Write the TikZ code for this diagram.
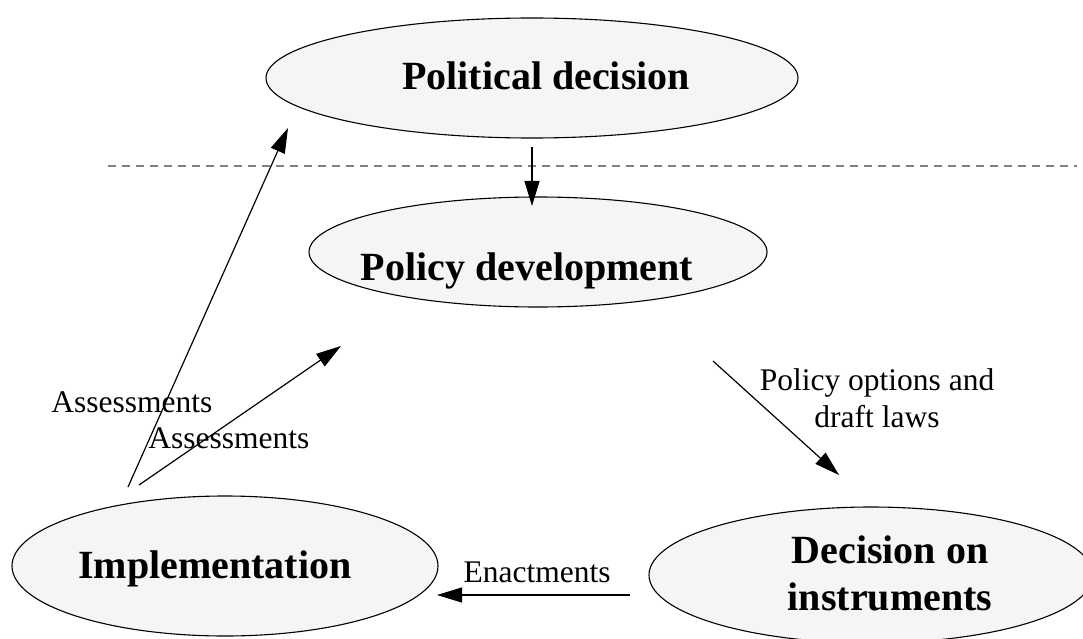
\documentclass[tikz,border=0pt]{standalone}
\usepackage{fontspec}
\setmainfont{Liberation Serif}
\usetikzlibrary{shapes.geometric,arrows.meta}
\definecolor{ellfill}{RGB}{245,245,245}
\definecolor{dashgray}{RGB}{128,128,128}
\begin{document}
\begin{tikzpicture}[x=1pt,y=-1pt,
 ell/.style={ellipse, draw=black, line width=1.1pt, fill=ellfill, inner sep=0pt},
 title/.style={font=\fontsize{40}{47}\selectfont\bfseries, inner sep=0pt, align=center},
 lbl/.style={font=\fontsize{31.5}{37}\selectfont, inner sep=0pt, align=center},
 arr/.style={line width=1.2pt, -{Triangle[length=25pt,width=15pt]}},
 sep/.style={draw=dashgray, line width=1.2pt, dash pattern=on 8pt off 6pt},
]
\useasboundingbox (0,0) rectangle (1083,639);
\fill[white] (0,0) rectangle (1083,639);

% separator
\coordinate (dl1) at (108,166);
\coordinate (dl2) at (1077,166);
\draw[sep] (dl1) -- (dl2);

% ellipses
\node[ell, minimum width=532pt, minimum height=120pt] (pd) at (532,78) {};
\node[ell, minimum width=458pt, minimum height=110pt] (pdev) at (538,252) {};
\node[ell, minimum width=426pt, minimum height=140pt] (impl) at (225,566) {};
\node[ell, minimum width=444pt, minimum height=136pt] (dec) at (871,575) {};

% titles
\node[title, anchor=base] (pdt) at (546,90) {Political decision};
\node[title, anchor=base] (pdevt) at (527,280) {Policy development};
\node[title, anchor=base] (implt) at (215,578) {Implementation};
\node[title] (dect) at (890,573) {Decision on\\instruments};

% arrow end points
\coordinate (a1s) at (532,147); \coordinate (a1e) at (532,206);
\coordinate (a2s) at (128,487); \coordinate (a2e) at (288,128);
\coordinate (a3s) at (139,485); \coordinate (a3e) at (341,346);
\coordinate (a4s) at (713,361); \coordinate (a4e) at (839,475);
\coordinate (a5s) at (630,595); \coordinate (a5e) at (437,595);

\draw[arr] (a1s) -- (a1e);
\draw[arr] (a2s) -- (a2e);
\draw[arr] (a3s) -- (a3e);
\draw[arr] (a4s) -- (a4e);
\draw[arr] (a5s) -- (a5e);

% labels
\node[lbl, anchor=base] (l1) at (132,412) {Assessments};
\node[lbl, anchor=base] (l2) at (229,448) {Assessments};
\node[lbl] (l3) at (877,398) {Policy options and\\draft laws};
\node[lbl, anchor=base] (l4) at (537,582) {Enactments};
\end{tikzpicture}
\end{document}
